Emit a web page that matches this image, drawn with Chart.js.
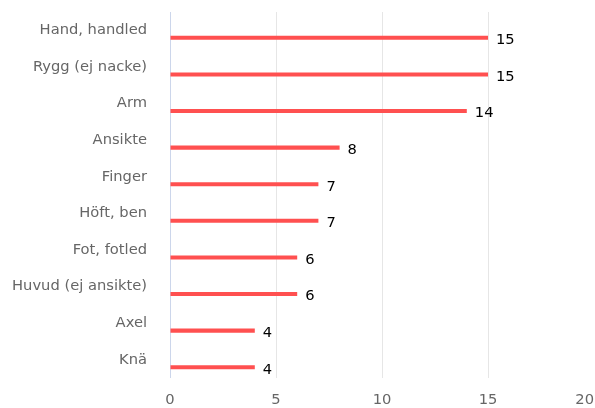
<!DOCTYPE html>
<html>
<head>
<meta charset="utf-8">
<script src="https://cdn.jsdelivr.net/npm/chart.js@4/dist/chart.umd.min.js"></script>
<style>
  body { margin: 0; background: #fff; }
  canvas { display: block; }
</style>
</head>
<body>
<canvas id="skadorChart" width="595" height="408"></canvas>
<script>
// Data
const categories = ['Hand, handled', 'Rygg (ej nacke)', 'Arm', 'Ansikte', 'Finger', 'Höft, ben', 'Fot, fotled', 'Huvud (ej ansikte)', 'Axel', 'Knä'];
const counts = [15, 15, 14, 8, 7, 7, 6, 6, 4, 4];
const xTicks = [0, 5, 10, 15, 20];

const labelFont = { family: 'DejaVu Sans', size: 14.7 };

// draws the numbers next to each bar
const valueLabels = {
  id: 'valueLabels',
  afterDatasetsDraw(chart) {
    const ctx = chart.ctx;
    const meta = chart.getDatasetMeta(1);
    ctx.save();
    ctx.font = labelFont.size + 'px "' + labelFont.family + '"';
    ctx.fillStyle = '#000';
    ctx.textAlign = 'left';
    ctx.textBaseline = 'middle';
    meta.data.forEach((bar, i) => {
      ctx.fillText(String(counts[i]), bar.x + 8, bar.y + 2.5);
    });
    ctx.restore();
  }
};

const ctx = document.getElementById('skadorChart');
new Chart(ctx, {
  type: 'bar',
  data: {
    labels: categories,
    datasets: [
      // empty slot so the red bar sits under the label
      { data: categories.map(() => null), backgroundColor: 'rgba(0,0,0,0)' },
      { data: counts, backgroundColor: '#ff5050', borderWidth: 0 }
    ]
  },
  options: {
    indexAxis: 'y',
    responsive: false,
    animation: false,
    categoryPercentage: 0.82,
    barPercentage: 0.27,
    layout: { padding: { top: 12, right: 1, left: 0, bottom: 0 } },
    plugins: {
      legend: { display: false },
      tooltip: { enabled: false }
    },
    scales: {
      x: {
        min: 0,
        max: 20,
        afterBuildTicks(scale) {
          scale.ticks = xTicks.map(v => ({ value: v }));
        },
        afterFit(scale) {
          scale.height = 30;
          scale.paddingLeft = 0;
          scale.paddingRight = 0;
        },
        border: { display: false },
        grid: {
          drawTicks: false,
          color: c => {
            if (!c.tick) return '#e6e6e6';
            if (c.tick.value === 0) return '#ccd6eb';
            if (c.tick.value === 20) return 'rgba(0,0,0,0)';
            return '#e6e6e6';
          },
          lineWidth: 1
        },
        ticks: {
          color: '#666666',
          font: labelFont,
          padding: 13,
          maxRotation: 0,
          // keep the last label inside the frame
          callback: v => v === 20 ? '20\u2007\u2007' : String(v)
        }
      },
      y: {
        afterFit(scale) {
          scale.width = 170;
          scale.paddingTop = 0;
          scale.paddingBottom = 0;
        },
        border: { display: false },
        grid: { display: false, drawTicks: false },
        ticks: {
          color: '#666666',
          font: labelFont,
          padding: 23
        }
      }
    }
  },
  plugins: [valueLabels]
});
</script>
</body>
</html>
